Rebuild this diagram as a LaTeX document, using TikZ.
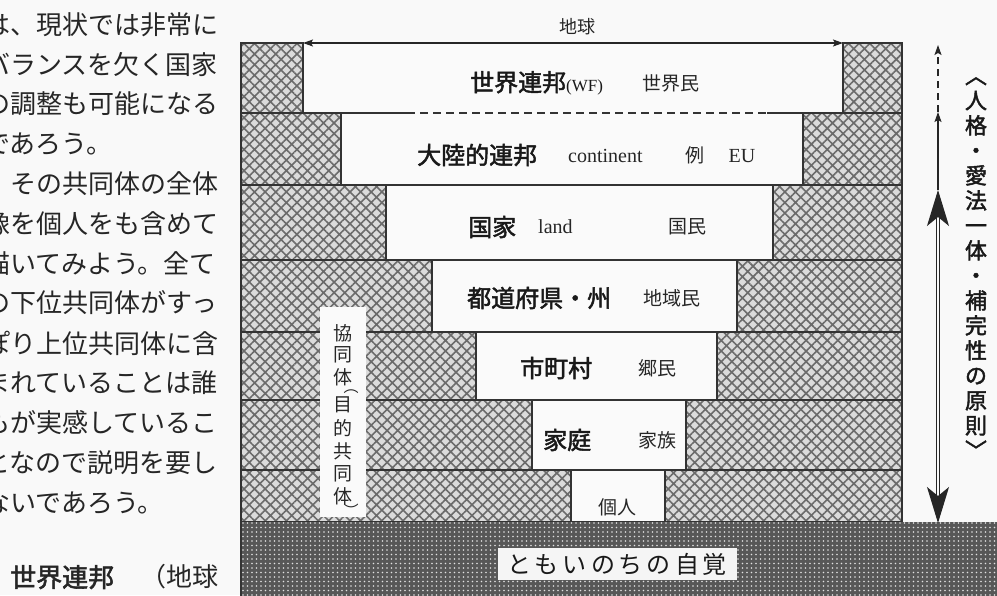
\documentclass[tikz,border=0pt]{standalone}
\usepackage{fontspec}
\setmainfont{Liberation Serif}
\newfontfamily\cjk[AutoFakeBold=2]{Noto Sans CJK JP}
\usetikzlibrary{patterns.meta,arrows.meta}
\begin{document}
\begin{tikzpicture}[x=1pt,y=-1pt,
  hatch/.style={draw=black!80, line width=1.3pt, preaction={fill=gray!28},
    pattern={Hatch[angle=45,distance=7.5pt,line width=1.6pt]}, pattern color=black!58},
  whitebox/.style={fill=gray!4},
  ground/.style={preaction={fill=black!66}, pattern={Dots[distance=4.5pt,radius=0.8pt]}, pattern color=white!88!black},
  sep/.style={draw=black!80, line width=1.3pt},
  body/.style={font=\cjk\fontsize{26}{26}\selectfont, inner sep=0pt, anchor=west, text=black!85},
  big/.style={font=\cjk\bfseries\fontsize{24}{24}\selectfont, inner sep=0pt, anchor=west, text=black!90},
  small/.style={font=\cjk\fontsize{19}{19}\selectfont, inner sep=0pt, text=black!85},
  latin/.style={font=\fontsize{20}{20}\selectfont, inner sep=0pt, text=black!85},
  vchar/.style={font=\cjk\fontsize{19}{19}\selectfont, inner sep=0pt, text=black!85},
  thinarrow/.style={line width=1.2pt, draw=black!85, -{Stealth[length=10pt,width=7pt,inset=2pt]}},
]
\useasboundingbox (0,0) rectangle (997,595);
\clip (0,0) rectangle (997,595);
\fill[gray!5] (0,0) rectangle (997,595);

% ---------- left body text ----------
\node[body] (t1) at (-16,25) {は、現状では非常に};
\node[body] (t2) at (-16,65) {バランスを欠く国家};
\node[body] (t3) at (-16,104) {の調整も可能になる};
\node[body] (t4) at (-16,144) {であろう。};
\node[body] (t5) at (-16,184) {　その共同体の全体};
\node[body] (t6) at (-16,224) {像を個人をも含めて};
\node[body] (t7) at (-16,264) {描いてみよう。全て};
\node[body] (t8) at (-16,303) {の下位共同体がすっ};
\node[body] (t9) at (-16,343) {ぽり上位共同体に含};
\node[body] (t10) at (-16,383) {まれていることは誰};
\node[body] (t11) at (-16,423) {もが実感しているこ};
\node[body] (t12) at (-16,463) {となので説明を要し};
\node[body] (t13) at (-16,503) {ないであろう。};
\node[body] (t14) at (-16,577) {　{\bfseries 世界連邦}　（地球};

% ---------- rows ----------
\foreach \t/\b/\l/\r in {43/113/303/843, 113/185/341/803, 185/260/386/773,
  260/332/432/737, 332/400/476/717, 400/470/532/686, 470/522/571/665} {
  \path[whitebox] (\l,\t) rectangle (\r,\b);
  \path[hatch] (241,\t) rectangle (\l,\b);
  \path[hatch] (\r,\t) rectangle (902,\b);
}
% white box outlines (rows 3-7)
\foreach \t/\b/\l/\r in {185/260/386/773, 260/332/432/737, 332/400/476/717,
  400/470/532/686, 470/522/571/665} {
  \draw[sep] (\l,\t) rectangle (\r,\b);
}
% boundary between row 1 and row 2
\coordinate (d1) at (341,113);
\coordinate (d2) at (407,113);
\coordinate (d3) at (767,113);
\coordinate (d4) at (803,113);
\draw[sep] (d1) -- (d2);
\draw[sep, dash pattern=on 8pt off 5pt] (d2) -- (d3);
\draw[sep] (d3) -- (d4);

% top arrow (地球)
\coordinate (aL) at (303,43);
\coordinate (aR) at (843,43);
\draw[line width=1.3pt, draw=black!85, {Stealth[length=10pt,width=7pt,inset=2pt]}-{Stealth[length=10pt,width=7pt,inset=2pt]}] (aL) -- (aR);
\node[small, font=\cjk\fontsize{18}{18}\selectfont] (earth) at (577,27) {地球};

% middle vertical strip
\path[whitebox] (320,307) rectangle (366,517);
\node[vchar] (v1) at (343,333) {協};
\node[vchar] (v2) at (343,355) {同};
\node[vchar] (v3) at (343,377) {体};
\node[vchar, font=\cjk\fontsize{15}{15}\selectfont] (v4) at (351,392) {︵};
\node[vchar] (v5) at (343,405) {目};
\node[vchar] (v6) at (343,428) {的};
\node[vchar] (v7) at (343,451) {共};
\node[vchar] (v8) at (343,474) {同};
\node[vchar] (v9) at (343,496) {体};
\node[vchar, font=\cjk\fontsize{15}{15}\selectfont] (v10) at (351,510) {︶};

% ground
\path[ground] (241,522) rectangle (997,600);
\draw[sep] (241,522) -- (241,600);
\node[fill=gray!8, minimum width=239pt, minimum height=32pt, inner sep=0pt,
  font=\cjk\fontsize{24}{24}\selectfont, text=black!90] (gl) at (617,564)
  {と\kern4pt も\kern4pt い\kern4pt の\kern4pt ち\kern4pt の\kern4pt 自\kern4pt 覚};

% row labels
\node[big] (r1a) at (470,83) {世界連邦{\fontspec{Liberation Serif}\mdseries\fontsize{17}{17}\selectfont (WF)}};
\node[small] (r1b) at (671,83) {世界民};
\node[big] (r2a) at (417,155) {大陸的連邦};
\node[latin, anchor=west] (r2b) at (568,156) {continent};
\node[small] (r2c) at (695,155) {例};
\node[latin] (r2d) at (742,156) {EU};
\node[big] (r3a) at (468,227) {国家};
\node[latin, anchor=west] (r3b) at (538,227) {land};
\node[small] (r3c) at (687,227) {国民};
\node[big] (r4a) at (467,298) {都道府県・州};
\node[small] (r4b) at (672,298) {地域民};
\node[big] (r5a) at (520,368) {市町村};
\node[small] (r5b) at (657,368) {郷民};
\node[big] (r6a) at (543,440) {家庭};
\node[small] (r6b) at (657,440) {家族};
\node[small] (r7) at (617,507) {個人};

% right vertical arrow
\coordinate (vA) at (938,45);
\coordinate (vB) at (938,112);
\coordinate (vC) at (938,190);
\coordinate (vD) at (938,523);
\draw[thinarrow, dash pattern=on 7pt off 5pt] (vB) -- (vA);
\draw[thinarrow] (vC) -- (vB);
\draw[line width=1.1pt, draw=black!85, double=gray!5, double distance=2.2pt,
  {Stealth[length=36pt,width=22pt,inset=9pt]}-{Stealth[length=36pt,width=22pt,inset=9pt]}] (vC) -- (vD);

% right vertical text
\node[inner sep=0pt, align=center, font=\cjk\bfseries\fontsize{22}{25}\selectfont, text=black!90] (rt) at (976,268)
  {︿\\人\\格\\・\\愛\\法\\一\\体\\・\\補\\完\\性\\の\\原\\則\\﹀};
\end{tikzpicture}
\end{document}
